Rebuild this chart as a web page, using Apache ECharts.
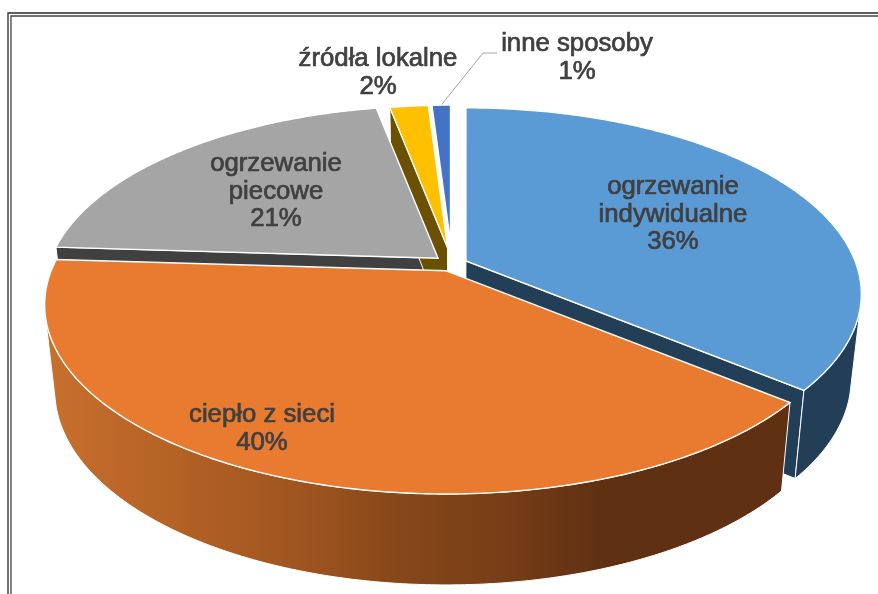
<!DOCTYPE html>
<html><head><meta charset="utf-8">
<style>html,body{margin:0;padding:0;background:#fff}#c{width:878px;height:594px}</style>
<script src="https://cdn.jsdelivr.net/npm/echarts@6/dist/echarts.min.js"></script>
</head><body><div id="c"></div>
<script>
// ---- data ----
const categories = ['ogrzewanie\nindywidualne','ciepło z sieci','ogrzewanie\npiecowe','źródła lokalne','inne sposoby'];
const values = [36,40,21,2,1];
// ---- styles / layout ----
const topColors = ['#5b9bd5','#e97b30','#a5a5a5','#ffc000','#4472c4'];
const faceColors = ['#223f57','#5f3012','#404040','#6b5000','#2a4480'];
const explode = [0.039,0.04,0.047,0.09,0.12];
const radius = [0.985,1,0.98,0.905,0.865];
const paintOrder = [1,3,2,2,2];
const showCutFace = [true,false,true,true,false];
const labelX = [673,262,276,378,577];
const labelY = [215,429,192,73,58];
const labelTextColor = '#404040';
const CX=452, CY=264, R=395, RY=183, K=0.18, SHRINK=0.975, DEPTH=88;

const total = values.reduce((a,b)=>a+b,0);
const TAU = Math.PI*2;
const starts = []; let acc = 0;
values.forEach(v=>{starts.push(acc); acc+=v;});
const ang = i => [starts[i]/total*TAU,(starts[i]+values[i])/total*TAU];
function tip(i){
  const [a0,a1]=ang(i), m=(a0+a1)/2;
  return [CX+R*explode[i]*Math.sin(m), CY-RY*explode[i]*Math.cos(m)];
}
function rim(i,a){
  const t=tip(i), u=radius[i]*Math.sin(a), v=-radius[i]*Math.cos(a), w=1-K*v;
  return [t[0]+R*u/w, t[1]+RY*v/w];
}
function down(p){
  return [CX+(p[0]-CX)*SHRINK, p[1]+DEPTH+0.028*(p[1]-389)];
}
function arc(i){
  const [a0,a1]=ang(i), n=Math.max(6,Math.round((a1-a0)/0.01)), pts=[];
  for(let k=0;k<=n;k++) pts.push(rim(i,a0+(a1-a0)*k/n));
  return pts;
}
// the part of a slice's rim whose wall faces the viewer
function visibleRim(pts){
  const out=[];
  for(let k=0;k<pts.length-1;k++){
    const a=pts[k], b=pts[k+1], d=down(a);
    const tx=b[0]-a[0], ty=b[1]-a[1];
    if(ty*(d[0]-a[0]) - tx*(d[1]-a[1]) > 0){ out.push(a); if(k===pts.length-2) out.push(b); }
  }
  return out;
}
const orangeSide = {type:'linear',x:48,y:0,x2:778,y2:0,global:true,colorStops:[
  {offset:0,color:'#c86f2d'},{offset:0.25,color:'#ab5c22'},{offset:0.345,color:'#9f5520'},
  {offset:0.48,color:'#874719'},{offset:0.62,color:'#783e17'},{offset:0.76,color:'#5f3012'},{offset:1,color:'#5f3012'}]};

function renderFaces(params){
  const i=params.dataIndex, [a0,a1]=ang(i), t=tip(i), tb=down(t), kids=[];
  const fill = i===1 ? orangeSide : faceColors[i];
  const face=(p)=>({type:'polygon',z2:paintOrder[i],shape:{points:p},style:{fill:fill,stroke:'#fff',lineWidth:1}});
  if(showCutFace[i]){
    if(Math.sin(a0)<-1e-6){const o=rim(i,a0);kids.push(face([t,o,down(o),tb]));}
    if(Math.sin(a1)>1e-6){const o=rim(i,a1);kids.push(face([t,o,down(o),tb]));}
  }
  const vis=visibleRim(arc(i));
  if(vis.length>1) kids.push(face(vis.concat(vis.map(down).reverse())));
  return {type:'group',children:kids};
}
function renderTops(params){
  const i=params.dataIndex;
  return {type:'polygon',shape:{points:[tip(i)].concat(arc(i))},
    style:{fill:topColors[i],stroke:'#fff',lineWidth:1.4,lineJoin:'miter'}};
}
function renderLabels(params){
  const i=params.dataIndex;
  return {type:'text',x:labelX[i],y:labelY[i],scaleX:1.03,
    style:{text:categories[i]+'\n'+values[i]+'%',textAlign:'center',textVerticalAlign:'middle',
      font:'25px "Liberation Sans", Arial, sans-serif',lineHeight:27.5,fill:labelTextColor,stroke:labelTextColor,lineWidth:0.7}};
}
const smallArcMid = (()=>{const [a0,a1]=ang(4);return rim(4,(a0+a1)/2);})();

const chart = echarts.init(document.getElementById('c'),null,{renderer:'canvas'});
chart.setOption({
  animation:false,
  backgroundColor:'#fff',
  graphic:[
    {type:'rect',shape:{x:8,y:13,width:900,height:620},style:{fill:'none',stroke:'#2a2a2a',lineWidth:1.3}},
    {type:'rect',shape:{x:11,y:16,width:900,height:620},style:{fill:'none',stroke:'#444',lineWidth:1.3}},
    {type:'polyline',shape:{points:[[smallArcMid[0],smallArcMid[1]],[483,53],[497,53]]},style:{fill:'none',stroke:'#a6a6a6',lineWidth:1}}
  ],
  series:[
    {type:'custom',coordinateSystem:'none',z:1,renderItem:renderFaces,data:values,silent:true},
    {type:'custom',coordinateSystem:'none',z:2,renderItem:renderTops,data:values,silent:true},
    {type:'custom',coordinateSystem:'none',z:3,renderItem:renderLabels,data:values,silent:true}
  ]
});
</script></body></html>
